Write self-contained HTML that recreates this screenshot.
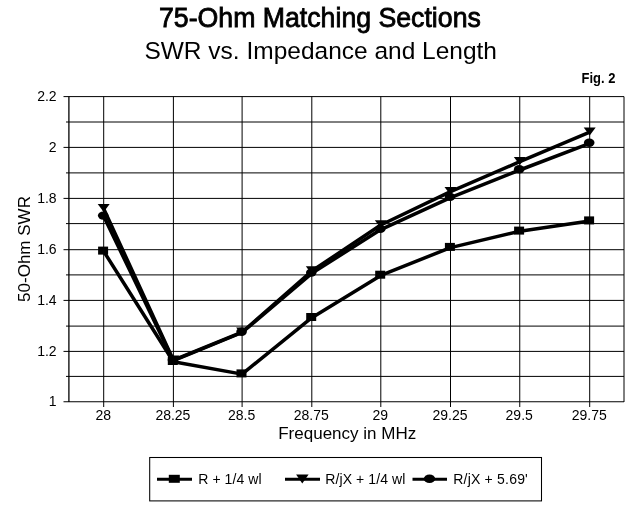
<!DOCTYPE html>
<html><head><meta charset="utf-8"><title>75-Ohm Matching Sections</title>
<style>html,body{margin:0;padding:0;background:#fff}svg{display:block}text{font-family:"Liberation Sans",Arial,sans-serif;fill:#000}</style></head><body>
<svg width="640" height="505" viewBox="0 0 640 505">
<rect width="640" height="505" fill="#fff"/>
<g stroke="#000" stroke-width="1" fill="none">
<line x1="63.5" y1="96.60" x2="624.0" y2="96.60"/>
<line x1="66" y1="122.00" x2="624.0" y2="122.00"/>
<line x1="63.5" y1="147.40" x2="624.0" y2="147.40"/>
<line x1="66" y1="172.90" x2="624.0" y2="172.90"/>
<line x1="63.5" y1="198.40" x2="624.0" y2="198.40"/>
<line x1="66" y1="223.60" x2="624.0" y2="223.60"/>
<line x1="63.5" y1="249.70" x2="624.0" y2="249.70"/>
<line x1="66" y1="274.90" x2="624.0" y2="274.90"/>
<line x1="63.5" y1="300.40" x2="624.0" y2="300.40"/>
<line x1="66" y1="326.10" x2="624.0" y2="326.10"/>
<line x1="63.5" y1="351.40" x2="624.0" y2="351.40"/>
<line x1="66" y1="376.40" x2="624.0" y2="376.40"/>
<line x1="63.5" y1="401.75" x2="624.0" y2="401.75"/>
<line x1="103.70" y1="96.6" x2="103.70" y2="407"/>
<line x1="173.40" y1="96.6" x2="173.40" y2="407"/>
<line x1="242.10" y1="96.6" x2="242.10" y2="407"/>
<line x1="311.80" y1="96.6" x2="311.80" y2="407"/>
<line x1="380.80" y1="96.6" x2="380.80" y2="407"/>
<line x1="450.50" y1="96.6" x2="450.50" y2="407"/>
<line x1="519.75" y1="96.6" x2="519.75" y2="407"/>
<line x1="589.70" y1="96.6" x2="589.70" y2="407"/>
<line x1="68.9" y1="96.6" x2="68.9" y2="402.0" stroke-width="1.3"/>
</g>
<line x1="624.0" y1="96.6" x2="624.0" y2="402.0" stroke="#000" stroke-width="1"/>
<g stroke="#000" stroke-width="3.5" fill="none" stroke-linejoin="round">
<polyline points="103.7,251.3 173.4,361.7 242.1,374.1 311.8,317.7 380.8,275.4 450.5,247.6 519.8,231.2 589.7,221.1"/>
<polyline points="103.7,208.7 173.4,360.2 242.1,332.2 311.8,271.0 380.8,225.0 450.5,191.7 519.8,161.7 589.7,132.2"/>
<polyline points="103.7,216.3 173.4,360.7 242.1,332.5 311.8,273.3 380.8,229.6 450.5,197.6 519.8,170.0 589.7,143.4"/>
</g>
<g fill="#000">
<rect x="98.1" y="246.6" width="10" height="8"/>
<rect x="167.8" y="357.0" width="10" height="8"/>
<rect x="236.5" y="369.4" width="10" height="8"/>
<rect x="306.2" y="313.0" width="10" height="8"/>
<rect x="375.2" y="270.7" width="10" height="8"/>
<rect x="444.9" y="242.9" width="10" height="8"/>
<rect x="514.1" y="226.6" width="10" height="8"/>
<rect x="584.1" y="216.4" width="10" height="8"/>
<polygon points="97.7,204.0 109.7,204.0 103.7,212.0"/>
<polygon points="167.4,355.5 179.4,355.5 173.4,363.5"/>
<polygon points="236.1,327.5 248.1,327.5 242.1,335.5"/>
<polygon points="305.8,266.3 317.8,266.3 311.8,274.3"/>
<polygon points="374.8,220.3 386.8,220.3 380.8,228.3"/>
<polygon points="444.5,187.0 456.5,187.0 450.5,195.0"/>
<polygon points="513.8,157.0 525.8,157.0 519.8,165.0"/>
<polygon points="583.7,127.5 595.7,127.5 589.7,135.5"/>
<ellipse cx="103.2" cy="215.6" rx="5.3" ry="4.2"/>
<ellipse cx="172.9" cy="360.0" rx="5.3" ry="4.2"/>
<ellipse cx="241.6" cy="331.8" rx="5.3" ry="4.2"/>
<ellipse cx="311.3" cy="272.6" rx="5.3" ry="4.2"/>
<ellipse cx="380.3" cy="228.9" rx="5.3" ry="4.2"/>
<ellipse cx="450.0" cy="196.9" rx="5.3" ry="4.2"/>
<ellipse cx="519.2" cy="169.3" rx="5.3" ry="4.2"/>
<ellipse cx="589.2" cy="142.8" rx="5.3" ry="4.2"/>
</g>
<text id="t1" transform="translate(319.9 27.4) scale(1 1.05)" font-size="26.7" stroke="#000" stroke-width="0.8" text-anchor="middle">75-Ohm Matching Sections</text>
<text id="t2" transform="translate(320.7 58.6) scale(1 0.94)" font-size="24.5" text-anchor="middle">SWR vs. Impedance and Length</text>
<text id="fig" x="581.6" y="83" font-size="14" font-weight="bold" textLength="33.8" lengthAdjust="spacingAndGlyphs">Fig. 2</text>
<text x="56.6" y="101.1" font-size="14" text-anchor="end">2.2</text>
<text x="56.6" y="151.9" font-size="14" text-anchor="end">2</text>
<text x="56.6" y="202.9" font-size="14" text-anchor="end">1.8</text>
<text x="56.6" y="254.2" font-size="14" text-anchor="end">1.6</text>
<text x="56.6" y="304.9" font-size="14" text-anchor="end">1.4</text>
<text x="56.6" y="355.9" font-size="14" text-anchor="end">1.2</text>
<text x="56.6" y="406.2" font-size="14" text-anchor="end">1</text>
<text x="103.2" y="419.7" font-size="14" text-anchor="middle">28</text>
<text x="172.9" y="419.7" font-size="14" text-anchor="middle">28.25</text>
<text x="241.6" y="419.7" font-size="14" text-anchor="middle">28.5</text>
<text x="311.3" y="419.7" font-size="14" text-anchor="middle">28.75</text>
<text x="380.3" y="419.7" font-size="14" text-anchor="middle">29</text>
<text x="450.0" y="419.7" font-size="14" text-anchor="middle">29.25</text>
<text x="519.2" y="419.7" font-size="14" text-anchor="middle">29.5</text>
<text x="589.2" y="419.7" font-size="14" text-anchor="middle">29.75</text>
<text id="xt" x="347.2" y="439.4" font-size="17" text-anchor="middle">Frequency in MHz</text>
<text id="yt" transform="translate(30 249) rotate(-90)" font-size="17" text-anchor="middle">50-Ohm SWR</text>
<rect x="149.7" y="457.5" width="391.8" height="43.4" fill="#fff" stroke="#000" stroke-width="1.05"/>
<g stroke="#000" stroke-width="3"><line x1="157" y1="479.2" x2="192" y2="479.2"/><line x1="285" y1="479.2" x2="320" y2="479.2"/><line x1="412.5" y1="479.2" x2="447" y2="479.2"/></g>
<g fill="#000"><rect x="168.8" y="474.8" width="11" height="8"/><polygon points="296.1,474.6 308.6,474.6 302.3,483.6"/><ellipse cx="429.5" cy="478.8" rx="5.7" ry="4.3"/></g>
<text x="198.3" y="483.8" font-size="14" textLength="63.2">R + 1/4 wl</text>
<text x="325.3" y="483.8" font-size="14" textLength="80.1">R/jX + 1/4 wl</text>
<text x="453.3" y="483.8" font-size="14" textLength="74.5">R/jX + 5.69'</text>
</svg></body></html>
